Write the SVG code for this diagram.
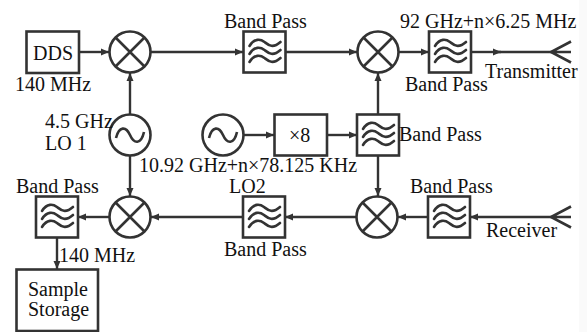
<svg xmlns="http://www.w3.org/2000/svg" width="587" height="332" viewBox="0 0 587 332">
<style>
text{font-family:"Liberation Serif","Times New Roman",serif;font-size:20px;fill:#111}
.s{fill:none;stroke:#333;stroke-width:2.6}
.b{fill:#fff;stroke:#333;stroke-width:2.6}
.w{fill:none;stroke:#333;stroke-width:2.6;stroke-linecap:round}
.c{fill:none;stroke:#333;stroke-width:2.4}
</style>
<defs>
<marker id="a" markerUnits="userSpaceOnUse" markerWidth="10" markerHeight="10" refX="8" refY="4.500" orient="auto"><path d="M0 1L8 4.500L0 8Z" fill="#333"/></marker>
<g id="mix"><circle class="s" r="20.500"/><path class="s" d="M-14.500-14.500L14.500 14.500M14.500-14.500L-14.500 14.500"/></g>
<g id="osc"><circle class="s" r="20.500"/><path class="s" d="M-14 3C-11-9-4-9 0 0S11 10 14-3"/></g>
<g id="bp"><rect class="b" x="-21" y="-20.500" width="42" height="41"/>
<path class="w" d="M-15-6C-10-14-4-13 0-10S8-3 16-10M-15 2C-10-6-4-5 0-2S8 5 16-2M-15 10C-10 2-4 3 0 6S8 13 16 6"/></g>
<g id="ant"><path class="s" d="M-20 0H0M0-10.500L-20 0L0 10.500"/></g>
</defs>
<rect width="579" height="332" fill="#fff"/>
<rect x="579" width="8" height="332" fill="#fafafa"/>
<g id="connectors">
<path class="c" marker-end="url(#a)" d="M79 52H109"/>
<path class="c" marker-end="url(#a)" d="M151 52H243"/>
<path class="c" marker-end="url(#a)" d="M286 52H357"/>
<path class="c" marker-end="url(#a)" d="M399 52H429"/>
<path class="c" marker-end="url(#a)" d="M471 52H501"/>
<path class="c" d="M495 52H552"/>
<path class="c" marker-end="url(#a)" d="M130 114V73"/>
<path class="c" marker-end="url(#a)" d="M130 156V196"/>
<path class="c" marker-end="url(#a)" d="M244 135H274"/>
<path class="c" marker-end="url(#a)" d="M327 135H357"/>
<path class="c" marker-end="url(#a)" d="M378 114V73"/>
<path class="c" marker-end="url(#a)" d="M378 155V196"/>
<path class="c" marker-end="url(#a)" d="M552 217H470"/>
<path class="c" marker-end="url(#a)" d="M428 217H398"/>
<path class="c" marker-end="url(#a)" d="M356 217H285"/>
<path class="c" marker-end="url(#a)" d="M243 217H151"/>
<path class="c" marker-end="url(#a)" d="M109 217H78"/>
<path class="c" marker-end="url(#a)" d="M57 238V269"/>
</g>
<g id="dds"><rect class="b" x="26.500" y="31.500" width="52.500" height="41.500"/><text x="33" y="60">DDS</text></g>
<g id="dds-label"><text x="15" y="91">140 MHz</text></g>
<g id="mixer-1"><use href="#mix" x="130" y="52"/></g>
<g id="lo1"><use href="#osc" x="130" y="135"/><text x="45" y="128">4.5 GHz</text><text x="45" y="150">LO 1</text></g>
<g id="bp-1"><use href="#bp" x="264.500" y="52"/><text x="224" y="28">Band Pass</text></g>
<g id="mixer-2"><use href="#mix" x="378" y="52"/></g>
<g id="bp-2"><use href="#bp" x="450" y="52"/><text x="400" y="28">92 GHz+n×6.25 MHz</text><text x="405" y="91">Band Pass</text></g>
<g id="transmitter"><use href="#ant" x="571" y="52"/><text x="485" y="78">Transmitter</text></g>
<g id="lo2"><use href="#osc" x="223" y="135"/><text x="139" y="172">10.92 GHz+n×78.125 KHz</text></g>
<g id="x8"><rect class="b" x="274.500" y="114.500" width="52.500" height="41"/><text x="289" y="142">×8</text></g>
<g id="bp-3"><use href="#bp" x="378" y="135"/><text x="399" y="141">Band Pass</text></g>
<g id="mixer-3"><use href="#mix" x="377" y="217"/></g>
<g id="bp-4"><use href="#bp" x="449" y="217"/><text x="410" y="193">Band Pass</text></g>
<g id="receiver"><use href="#ant" x="571" y="217"/><text x="486" y="237">Receiver</text></g>
<g id="bp-5"><use href="#bp" x="264" y="217"/><text x="229" y="193">LO2</text><text x="224" y="256">Band Pass</text></g>
<g id="mixer-4"><use href="#mix" x="130" y="217"/></g>
<g id="bp-6"><use href="#bp" x="57" y="217"/><text x="16" y="193">Band Pass</text><text x="59" y="262">140 MHz</text></g>
<g id="storage"><rect class="b" x="16.500" y="269.500" width="81.500" height="61.500"/><text x="28" y="296">Sample</text><text x="28" y="316">Storage</text></g>
</svg>
